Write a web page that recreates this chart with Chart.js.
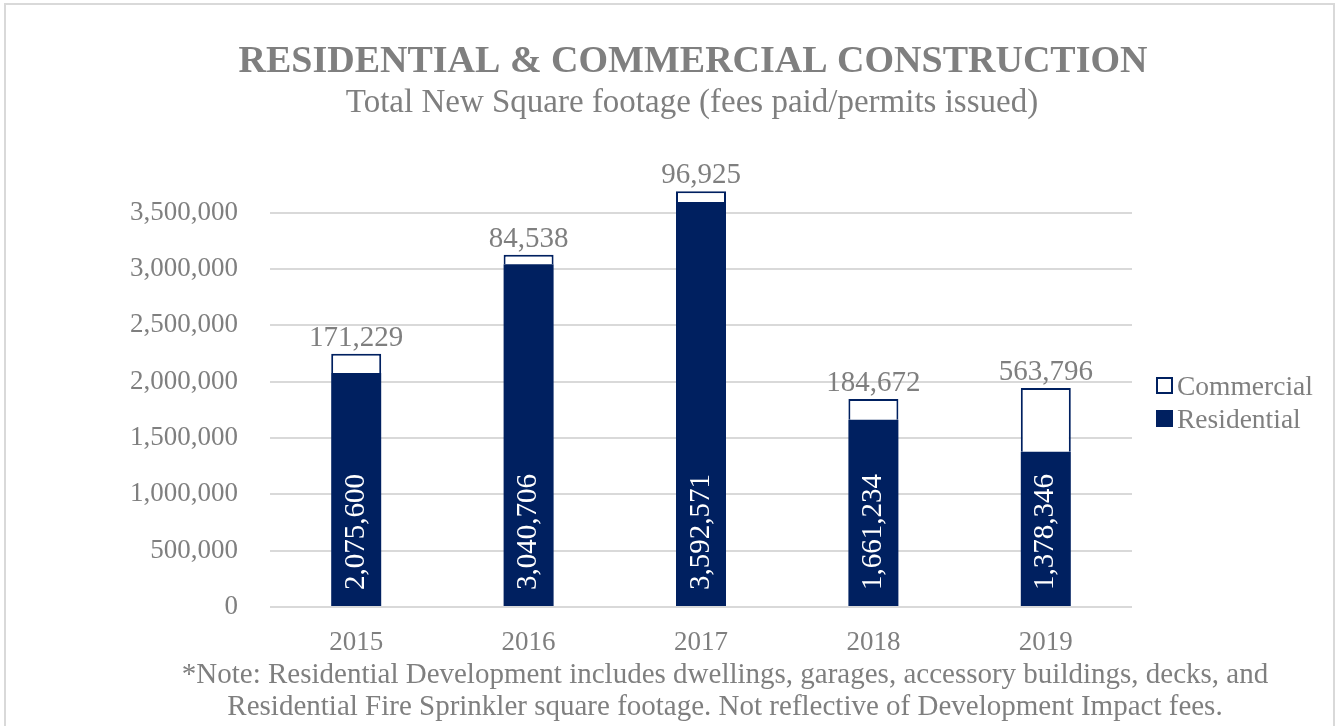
<!DOCTYPE html>
<html><head><meta charset="utf-8">
<script src="https://cdn.jsdelivr.net/npm/chart.js@4/dist/chart.umd.min.js"></script>
<style>html,body{margin:0;padding:0;background:#fff;overflow:hidden}canvas{display:block}</style>
</head><body>
<canvas id="c" width="1341" height="726"></canvas>
<script>
const categories = ['2015', '2016', '2017', '2018', '2019'];
const residential = [2075600, 3040706, 3592571, 1661234, 1378346];
const commercial = [171229, 84538, 96925, 184672, 563796];
const yTickValues = [0, 500000, 1000000, 1500000, 2000000, 2500000, 3000000, 3500000];
const titleText = 'RESIDENTIAL & COMMERCIAL CONSTRUCTION';
const subtitleText = 'Total New Square footage (fees paid/permits issued)';
const noteLines = [
  '*Note: Residential Development includes dwellings, garages, accessory buildings, decks, and',
  'Residential Fire Sprinkler square footage. Not reflective of Development Impact fees.'
];

const FONT = "'Liberation Serif', 'Times New Roman', serif";
const GRAY = '#7f7f7f';
const NAVY = '#002060';
const GRID = '#d9d9d9';
const fmt = v => Number(v).toLocaleString('en-US');

const decor = {
  id: 'decor',
  beforeDraw(chart) {
    const c = chart.ctx;
    c.save();
    c.fillStyle = '#fff';
    c.fillRect(0, 0, chart.width, chart.height);
    c.strokeStyle = GRID;
    c.lineWidth = 2;
    c.strokeRect(5, 4, 1329, 800);
    c.restore();
  },
  afterDatasetsDraw(chart) {
    const c = chart.ctx;
    c.save();
    const mR = chart.getDatasetMeta(0);
    c.font = `29px ${FONT}`;
    c.fillStyle = '#ffffff';
    mR.data.forEach((el, i) => {
      c.save();
      c.translate(el.x, el.base - 16);
      c.rotate(-Math.PI / 2);
      c.textAlign = 'left';
      c.textBaseline = 'middle';
      c.fillText(fmt(chart.data.datasets[0].data[i]), 0, 0);
      c.restore();
    });
    const mC = chart.getDatasetMeta(1);
    c.fillStyle = GRAY;
    c.textAlign = 'center';
    c.textBaseline = 'alphabetic';
    mC.data.forEach((el, i) => {
      c.fillText(fmt(chart.data.datasets[1].data[i]), el.x, el.y - 8);
    });
    c.restore();
  },
  afterDraw(chart) {
    const c = chart.ctx;
    c.save();
    c.fillStyle = GRAY;
    c.textAlign = 'center';
    c.textBaseline = 'alphabetic';
    c.font = `bold 38px ${FONT}`;
    c.fillText(titleText, 693, 72);
    c.font = `33px ${FONT}`;
    c.fillText(subtitleText, 692, 112);
    c.font = `29px ${FONT}`;
    c.fillText(noteLines[0], 725, 683);
    c.fillText(noteLines[1], 725, 715);
    const items = [
      { label: chart.data.datasets[1].label, fill: '#ffffff', stroke: NAVY, y: 377 },
      { label: chart.data.datasets[0].label, fill: NAVY, stroke: NAVY, y: 410 }
    ];
    c.textAlign = 'left';
    c.font = `27.5px ${FONT}`;
    items.forEach(it => {
      c.fillStyle = it.fill;
      c.fillRect(1156, it.y, 17, 17);
      c.strokeStyle = it.stroke;
      c.lineWidth = 2;
      c.strokeRect(1157, it.y + 1, 15, 15);
      c.fillStyle = GRAY;
      c.fillText(it.label, 1177, it.y + 18);
    });
    c.restore();
  }
};

new Chart(document.getElementById('c'), {
  type: 'bar',
  data: {
    labels: categories,
    datasets: [
      { label: 'Residential', data: residential, backgroundColor: NAVY, borderWidth: 0,
        stack: 's', categoryPercentage: 1, barPercentage: 0.29 },
      { label: 'Commercial', data: commercial, backgroundColor: '#ffffff', borderColor: NAVY, borderWidth: 2,
        stack: 's', categoryPercentage: 1, barPercentage: 0.29 }
    ]
  },
  options: {
    responsive: false,
    animation: false,
    devicePixelRatio: 1,
    layout: { padding: { top: 190, right: 209, bottom: 69, left: 0 } },
    plugins: { legend: { display: false }, tooltip: { enabled: false }, title: { display: false } },
    scales: {
      x: {
        stacked: true,
        grid: { display: false },
        border: { display: false },
        ticks: { color: GRAY, font: { family: FONT, size: 27 }, padding: 12, maxRotation: 0 },
        afterFit(s) { s.height = 50; }
      },
      y: {
        stacked: true, min: 0, max: 3700000,
        grid: { color: GRID, lineWidth: 2, drawTicks: false },
        border: { display: false },
        ticks: { color: GRAY, font: { family: FONT, size: 27 }, padding: 32,
          callback: v => fmt(v) },
        afterBuildTicks(s) { s.ticks = yTickValues.map(v => ({ value: v })); },
        afterFit(s) { s.width = 270; }
      }
    }
  },
  plugins: [decor]
});
</script>
</body></html>
